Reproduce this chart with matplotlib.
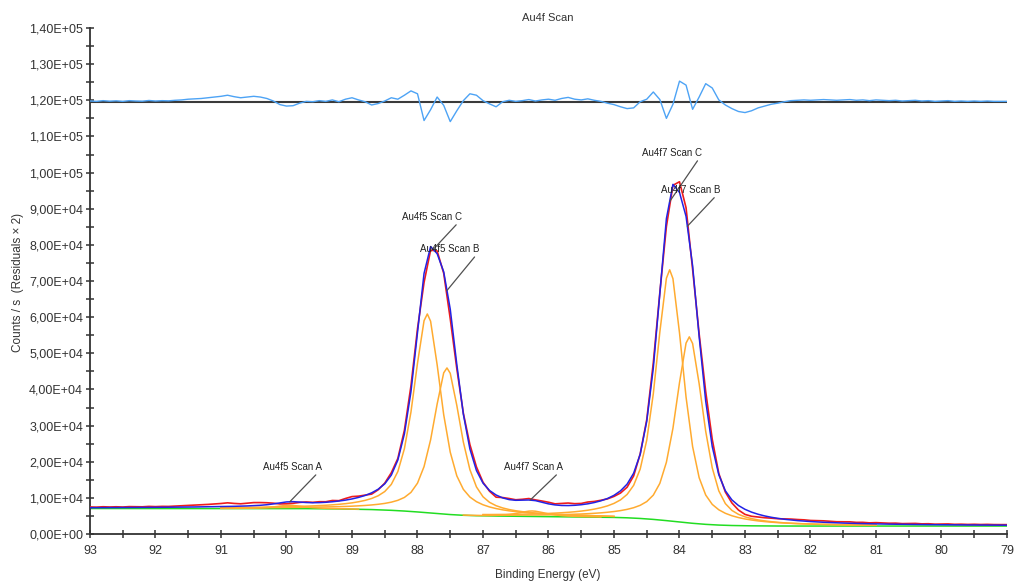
import numpy as np
import matplotlib
matplotlib.use("Agg")
import matplotlib.pyplot as plt
from matplotlib.ticker import MultipleLocator, FuncFormatter

plt.rcParams['font.family'] = ['Liberation Sans', 'DejaVu Sans']

# ---------------- data ----------------
binding_energy = np.linspace(93.0, 79.0, 141)   # eV sampling grid, 0.1 eV step

envelope = [
    7274, 7282, 7287, 7298, 7306, 7316, 7326, 7338, 7349, 7361,
    7376, 7392, 7406, 7422, 7442, 7462, 7483, 7510, 7535, 7563,
    7588, 7623, 7660, 7706, 7763, 7840, 7945, 8097, 8322, 8611,
    8875, 8950, 8834, 8711, 8655, 8682, 8772, 8920, 9123, 9371,
    9700, 10125, 10661, 11387, 12393, 13876, 16289, 20463, 27700, 39361,
    55602, 72107, 79528, 77562, 72547, 62193, 46926, 33161, 23527, 17561,
    14076, 12031, 10786, 9986, 9513, 9323, 9353, 9410, 9232, 8777,
    8338, 8044, 7892, 7867, 7941, 8103, 8349, 8707, 9181, 9816,
    10698, 11944, 13797, 16821, 22067, 31191, 45907, 66412, 87266, 96732,
    94510, 87872, 74229, 54616, 36789, 24173, 16395, 11964, 9437, 7884,
    6824, 6053, 5461, 4999, 4630, 4329, 4078, 3881, 3708, 3570,
    3445, 3334, 3244, 3163, 3092, 3025, 2968, 2916, 2873, 2832,
    2795, 2760, 2730, 2702, 2674, 2651, 2628, 2607, 2589, 2570,
    2553, 2538, 2525, 2511, 2498, 2487, 2476, 2465, 2455, 2446,
    2437]

background = [
    7050, 7050, 7050, 7050, 7050, 7050, 7050, 7050, 7050, 7050,
    7050, 7050, 7050, 7050, 7050, 7050, 7050, 7050, 7050, 7050,
    7050, 7050, 7050, 7050, 7050, 7050, 7050, 7050, 7050, 7050,
    7050, 7040, 7030, 7020, 7010, 7000, 6980, 6960, 6940, 6910,
    6880, 6850, 6810, 6760, 6700, 6630, 6550, 6460, 6350, 6230,
    6100, 5950, 5800, 5650, 5510, 5380, 5270, 5180, 5110, 5060,
    5020, 4990, 4970, 4950, 4930, 4910, 4900, 4880, 4860, 4840,
    4820, 4810, 4790, 4770, 4750, 4730, 4710, 4690, 4660, 4630,
    4590, 4540, 4480, 4400, 4300, 4180, 4040, 3880, 3700, 3510,
    3320, 3130, 2960, 2800, 2670, 2560, 2470, 2400, 2350, 2310,
    2280, 2260, 2240, 2230, 2220, 2210, 2200, 2200, 2200, 2200,
    2200, 2200, 2200, 2200, 2200, 2200, 2200, 2200, 2200, 2200,
    2200, 2200, 2200, 2200, 2200, 2200, 2200, 2200, 2200, 2200,
    2200, 2200, 2200, 2200, 2200, 2200, 2200, 2200, 2200, 2200,
    2200]

# residuals (x2), plotted about the residual baseline
residuals_x2 = [
    400, 300, 500, 350, 450, 300, 500, 400, 350, 550,
    400, 500, 450, 600, 700, 900, 1000, 1100, 1300, 1500,
    1700, 2000, 1600, 1300, 1500, 1700, 1500, 1100, 400, -600,
    -1000, -900, -200, 300, 200, 500, 300, 700, 200, 900,
    1300, 700, 200, -700, -300, 400, 1300, 900, 2000, 3200,
    2400, -5000, -2000, 1500, -800, -5300, -2300, 500, 2400, 2000,
    500, -400, -1200, 200, 600, 300, 500, 800, 400, 700,
    900, 600, 1100, 1400, 900, 700, 1000, 600, 300, -200,
    -600, -1200, -1700, -1500, 200, 900, 2900, 800, -4400, -500,
    5900, 4800, -1900, 1500, 5200, 4000, 700, -700, -1700, -2500,
    -2800, -2300, -1500, -1000, -500, -200, 200, 500, 600, 700,
    600, 700, 800, 700, 600, 700, 800, 600, 700, 500,
    700, 600, 500, 600, 400, 500, 600, 400, 500, 300,
    400, 500, 300, 400, 300, 400, 300, 400, 300, 300,
    300]
residual_baseline = 119400

# fitted components (component + background)
c5_be = np.r_[np.linspace(91.0, 87.9, 32), 87.85, np.linspace(87.8, 85.0, 29)]
au4f5_scanC = [
    7292, 7309, 7325, 7342, 7364, 7391, 7419, 7446, 7479, 7518,
    7562, 7607, 7652, 7713, 7780, 7864, 7954, 8071, 8216, 8390,
    8618, 8918, 9302, 9829, 10583, 11745, 13722, 17284, 23598, 33730,
    47268, 59020, 60875, 58870, 46818, 33010, 22628, 16094, 12352, 10225,
    8943, 8089, 7482, 7038, 6688, 6410, 6186, 6011, 5854, 5724,
    5610, 5513, 5432, 5357, 5282, 5218, 5159, 5106, 5059, 5001,
    4944, 4882]

b5_be = np.r_[np.linspace(91.0, 87.6, 35), 87.55, np.linspace(87.5, 85.0, 26)]
au4f5_scanB = [
    7200, 7208, 7216, 7228, 7240, 7253, 7265, 7281, 7301, 7321,
    7342, 7356, 7374, 7397, 7427, 7458, 7490, 7527, 7576, 7627,
    7698, 7790, 7899, 8040, 8223, 8465, 8810, 9319, 10117, 11511,
    14070, 18651, 26050, 35964, 44588, 45945, 44458, 35584, 25430, 17811,
    13030, 10301, 8757, 7829, 7210, 6765, 6433, 6180, 5969, 5800,
    5658, 5537, 5446, 5357, 5280, 5208, 5147, 5087, 5034, 4976,
    4922, 4861]

c7_be = np.r_[np.linspace(87.0, 84.2, 29), 84.15, np.linspace(84.1, 81.0, 32)]
au4f7_scanC = [
    5388, 5386, 5401, 5416, 5430, 5452, 5491, 5526, 5576, 5625,
    5696, 5783, 5881, 6000, 6154, 6342, 6580, 6886, 7273, 7778,
    8468, 9447, 10944, 13463, 17978, 25975, 38790, 55901, 70761, 73105,
    70647, 55647, 37880, 24196, 15575, 10784, 8193, 6696, 5729, 5050,
    4548, 4164, 3866, 3623, 3433, 3277, 3145, 3034, 2951, 2874,
    2815, 2756, 2708, 2666, 2631, 2600, 2569, 2541, 2516, 2499,
    2481, 2463]

b7_be = np.r_[np.linspace(87.0, 83.9, 32), 83.85, np.linspace(83.8, 81.0, 29)]
au4f7_scanB = [
    5247, 5232, 5228, 5223, 5224, 5229, 5245, 5251, 5262, 5278,
    5299, 5340, 5372, 5419, 5471, 5539, 5622, 5730, 5855, 6015,
    6217, 6476, 6813, 7274, 7936, 8970, 10756, 14015, 19850, 29260,
    41868, 52822, 54545, 52709, 41575, 28420, 18296, 11936, 8413, 6525,
    5442, 4747, 4261, 3898, 3626, 3410, 3235, 3091, 2983, 2893,
    2818, 2757, 2700, 2656, 2612, 2576, 2545, 2520, 2496, 2473,
    2453, 2435]

a5_be = np.r_[np.linspace(91.0, 90.0, 11), 89.95, np.linspace(89.9, 88.9, 11)]
au4f5_scanA = [7084, 7091, 7100, 7114, 7134, 7167, 7227, 7332, 7500, 7724,
               7918, 7945, 7908, 7704, 7470, 7292, 7177, 7097, 7044, 7004,
               6960, 6921, 6884]

a7_be = np.r_[np.linspace(87.3, 86.3, 11), 86.25, np.linspace(86.2, 85.2, 11)]
au4f7_scanA = [5236, 5178, 5144, 5126, 5130, 5166, 5245, 5400, 5660, 6023,
               6327, 6370, 6307, 5963, 5570, 5280, 5085, 4966, 4890, 4836,
               4794, 4758, 4716]

# peak labels: name, energy the leader points at
label_names = ["Au4f5 Scan A", "Au4f7 Scan A", "Au4f5 Scan C",
               "Au4f5 Scan B", "Au4f7 Scan C", "Au4f7 Scan B"]
label_be = [89.95, 86.28, 87.76, 87.55, 84.15, 83.88]

# ---------------- drawing ----------------
env = np.array(envelope, float)
bg = np.array(background, float)
res = np.array(residuals_x2, float)
data = env + res / 2.0

fig = plt.figure(figsize=(10.14, 5.81), dpi=100)
ax = fig.add_axes([90/1014, 47/581, 917/1014, 506/581])

ax.plot(binding_energy, bg, color='#22dd22', lw=1.1, zorder=2)
for xs, ys in [(c5_be, au4f5_scanC), (b5_be, au4f5_scanB),
               (c7_be, au4f7_scanC), (b7_be, au4f7_scanB),
               (a5_be, au4f5_scanA), (a7_be, au4f7_scanA)]:
    ax.plot(xs, ys, color='#ffab30', lw=1.1, zorder=3)
ax.plot(binding_energy, data, color='#ee1c1c', lw=1.2, zorder=4)
ax.plot(binding_energy, env, color='#2222e6', lw=1.1, zorder=5)

ax.axhline(residual_baseline, color='#3a3a3a', lw=1.5, zorder=5)
ax.plot(binding_energy, residual_baseline + res, color='#4da3f5', lw=1.0, zorder=6)

# labels with leader lines (text right end offsets are layout)
text_pos = [(89.46, 18500), (85.78, 18500), (87.32, 87700),
            (87.05, 78800), (83.66, 105400), (83.38, 95200)]
be_asc = binding_energy[::-1]
env_asc = env[::-1]
for name, bx, (tx, ty) in zip(label_names, label_be, text_pos):
    py = np.interp(bx, be_asc, env_asc)
    ax.annotate(name, xy=(bx, py), xytext=(tx, ty), ha='right', va='center',
                fontsize=7, color='#222222',
                arrowprops=dict(arrowstyle='-', color='#505050', lw=0.9,
                                shrinkA=0, shrinkB=0, relpos=(1.0, 0.35)),
                zorder=7)

ax.set_xlim(93, 79)
ax.set_ylim(0, 140000)
for s in ['top', 'right']:
    ax.spines[s].set_visible(False)
for s in ['left', 'bottom']:
    ax.spines[s].set_color('#333333')
    ax.spines[s].set_linewidth(1.3)

ax.xaxis.set_major_locator(MultipleLocator(1))
ax.xaxis.set_minor_locator(MultipleLocator(0.5))
ax.yaxis.set_major_locator(MultipleLocator(10000))
ax.yaxis.set_minor_locator(MultipleLocator(5000))
ax.xaxis.set_major_formatter(FuncFormatter(lambda v, p: f"{v:.0f}"))
ax.yaxis.set_major_formatter(FuncFormatter(lambda v, p: f"{v:.2E}".replace('.', ',')))
ax.tick_params(which='both', direction='inout', length=6, width=1.1, color='#333333')
ax.tick_params(axis='both', labelsize=9, labelcolor='#333333')
ax.tick_params(axis='x', pad=5)
ax.tick_params(axis='y', pad=2)

fig.text(548/1014, 1 - 18/581, 'Au4f Scan', ha='center', va='center',
         fontsize=8, color='#333333')
fig.text(548/1014, 1 - 575/581, 'Binding Energy (eV)', ha='center', va='center',
         fontsize=8.5, color='#333333')
fig.text(18/1014, 1 - 282/581, 'Counts / s  (Residuals \u00d7 2)', rotation=90,
         ha='center', va='center', fontsize=8.5, color='#333333')

fig.savefig('out.png', dpi=100)
